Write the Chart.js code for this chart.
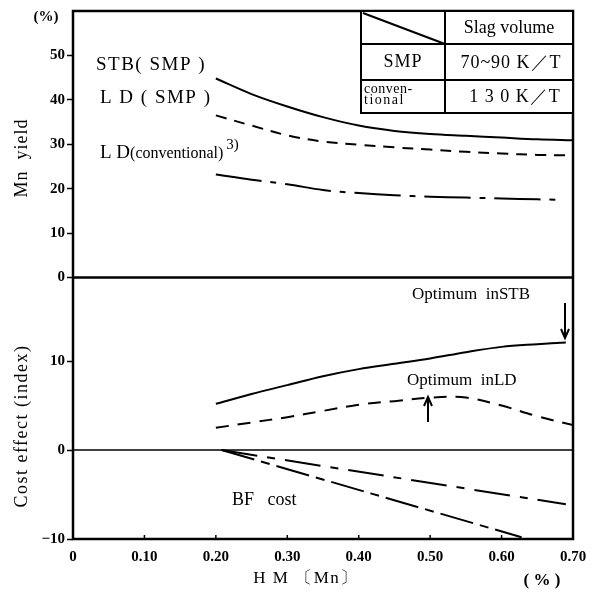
<!DOCTYPE html>
<html>
<head>
<meta charset="utf-8">
<script src="https://cdn.jsdelivr.net/npm/chart.js@4.4.1/dist/chart.umd.min.js"></script>
<style>
  html, body { margin: 0; padding: 0; background: #fff; }
</style>
</head>
<body>
<canvas id="chart" width="602" height="593"></canvas>
<script>
// values
const hmMn = [0.20, 0.25, 0.30, 0.35, 0.40, 0.45, 0.50, 0.55, 0.60, 0.65, 0.70];
const hmMnStb = [0.20, 0.25, 0.30, 0.35, 0.40, 0.45, 0.50, 0.55, 0.60, 0.65, 0.69];
const hmMnLdConv = [0.20, 0.25, 0.30, 0.35, 0.40, 0.45, 0.50, 0.55, 0.60, 0.65, 0.68];

const yieldStbSmp = [44.8, 41.3, 38.5, 36.1, 34.2, 33.0, 32.3, 31.9, 31.5, 31.1, 30.9];
const yieldLdSmp = [36.5, 34.2, 32.0, 30.6, 29.9, 29.3, 28.8, 28.3, 27.9, 27.6, 27.5];
const yieldLdConv = [23.2, 22.0, 21.0, 19.7, 19.0, 18.5, 18.2, 18.0, 17.8, 17.6, 17.5];

const costStb = [5.2, 6.3, 7.3, 8.3, 9.1, 9.7, 10.3, 11.0, 11.6, 11.9, 12.1];
const costLd = [2.5, 3.1, 3.7, 4.4, 5.1, 5.5, 5.9, 5.9, 5.0, 3.8, 2.8];

const bfX1 = [0.208, 0.69];
const bfCost1 = [0, -6.1];
const bfX2 = [0.208, 0.628];
const bfCost2 = [0, -9.8];

const yieldTicks = [0, 10, 20, 30, 40, 50];
const costTicks = [-10, 0, 10];
const xTicks = [0, 0.1, 0.2, 0.3, 0.4, 0.5, 0.6, 0.7];

const SERIF = "'Liberation Serif', 'DejaVu Serif', serif";
const INK = "#000";

function pts(xs, ys) {
  return ys.map((y, i) => ({ x: xs[i], y: y }));
}

function line(data, axis, dash) {
  return {
    data: data,
    yAxisID: axis,
    borderColor: INK,
    borderWidth: 2,
    borderDash: dash,
    pointRadius: 0,
    tension: 0.35,
    fill: false
  };
}

function txt(ctx, s, x, y, size, opts = {}) {
  ctx.font = (opts.bold ? "bold " : "") + size + "px " + SERIF;
  ctx.letterSpacing = opts.spacing || "0px";
  ctx.textAlign = opts.align || "left";
  ctx.textBaseline = "middle";
  ctx.fillText(s, x, y);
  const w = ctx.measureText(s).width;
  ctx.letterSpacing = "0px";
  return w;
}

function arrow(ctx, x, y1, y2) {
  const dir = y2 > y1 ? 1 : -1;
  ctx.beginPath();
  ctx.moveTo(x, y1);
  ctx.lineTo(x, y2);
  ctx.moveTo(x - 4, y2 - dir * 9);
  ctx.lineTo(x, y2);
  ctx.lineTo(x + 4, y2 - dir * 9);
  ctx.stroke();
}

// frame, table, labels and annotations
const decor = {
  id: "decor",
  afterDraw(chart) {
    const ctx = chart.ctx;
    const a = chart.chartArea;
    const xs = chart.scales.x;
    const y1 = chart.scales.y1;
    const y2 = chart.scales.y2;
    ctx.save();
    ctx.strokeStyle = INK;
    ctx.fillStyle = INK;

    // frame and panel separator
    ctx.lineWidth = 2.5;
    ctx.strokeRect(a.left, a.top, a.right - a.left, a.bottom - a.top);
    const sep = y1.getPixelForValue(0);
    ctx.beginPath();
    ctx.moveTo(a.left, sep);
    ctx.lineTo(a.right, sep);
    ctx.stroke();

    // zero line of lower panel
    ctx.lineWidth = 1.5;
    const z = y2.getPixelForValue(0);
    ctx.beginPath();
    ctx.moveTo(a.left, z);
    ctx.lineTo(a.right, z);
    ctx.stroke();

    // inward ticks on x axis
    ctx.lineWidth = 1.5;
    xTicks.slice(1, -1).forEach(v => {
      const px = xs.getPixelForValue(v);
      ctx.beginPath();
      ctx.moveTo(px, a.bottom);
      ctx.lineTo(px, a.bottom - 4);
      ctx.stroke();
    });

    // slag volume table
    const tl = 361, tc = 445, tr = a.right;
    const tt = a.top, r1 = 44, r2 = 80, tb = 113;
    ctx.fillStyle = "#fff";
    ctx.fillRect(tl, tt, tr - tl, tb - tt);
    ctx.fillStyle = INK;
    ctx.lineWidth = 2;
    ctx.strokeRect(tl, tt, tr - tl, tb - tt);
    ctx.beginPath();
    ctx.moveTo(tc, tt); ctx.lineTo(tc, tb);
    ctx.moveTo(tl, r1); ctx.lineTo(tr, r1);
    ctx.moveTo(tl, r2); ctx.lineTo(tr, r2);
    ctx.moveTo(tl + 2, tt + 2); ctx.lineTo(tc, r1);
    ctx.stroke();
    txt(ctx, "Slag volume", (tc + tr) / 2, 28, 18, { align: "center" });
    txt(ctx, "SMP", (tl + tc) / 2, 62, 18, { align: "center", spacing: "1px" });
    txt(ctx, "70~90 K／T", (tc + tr) / 2 + 2, 63, 18, { align: "center", spacing: "1px" });
    txt(ctx, "conven-", 364, 89, 14, { spacing: "0.5px" });
    txt(ctx, "tional", 364, 100, 14, { spacing: "1.5px" });
    txt(ctx, "1 3 0 K／T", (tc + tr) / 2 + 6, 97, 18, { align: "center", spacing: "1px" });

    // curve labels, upper panel
    txt(ctx, "STB( SMP )", 96, 65, 19, { spacing: "1.5px" });
    txt(ctx, "L D ( SMP )", 100, 98, 19, { spacing: "1.5px" });
    let w = txt(ctx, "L D", 100, 153, 19);
    w += txt(ctx, "(conventional)", 100 + w, 154, 16);
    txt(ctx, "3)", 100 + w + 3, 145, 15);

    // annotations, lower panel
    txt(ctx, "Optimum  inSTB", 412, 295, 17);
    arrow(ctx, 565, 303, 338);
    txt(ctx, "Optimum  inLD", 407, 381, 17);
    arrow(ctx, 428, 422, 397);
    txt(ctx, "BF   cost", 232, 500, 18);

    // axis titles
    txt(ctx, "(%)", 46, 17, 15, { bold: true, align: "center" });
    txt(ctx, "H M 〔Mn〕", 306, 579, 17, { align: "center", spacing: "1.5px" });
    txt(ctx, "( % )", 542, 581, 17, { bold: true, align: "center" });

    ctx.save();
    ctx.translate(22, 158);
    ctx.rotate(-Math.PI / 2);
    txt(ctx, "Mn  yield", 0, 0, 18, { align: "center", spacing: "1px" });
    ctx.restore();
    ctx.save();
    ctx.translate(22, 426);
    ctx.rotate(-Math.PI / 2);
    txt(ctx, "Cost effect (index)", 0, 0, 18, { align: "center", spacing: "1.5px" });
    ctx.restore();

    ctx.restore();
  }
};

const tickFont = { family: SERIF, size: 15, weight: "bold" };

new Chart(document.getElementById("chart").getContext("2d"), {
  type: "line",
  data: {
    datasets: [
      line(pts(hmMn, yieldStbSmp), "y1", []),
      line(pts(hmMnStb, yieldLdSmp), "y1", [11, 8]),
      line(pts(hmMnLdConv, yieldLdConv), "y1", [46, 9, 6, 9]),
      line(pts(hmMnStb, costStb), "y2", []),
      line(pts(hmMn, costLd), "y2", [13, 9]),
      line(pts(bfX1, bfCost1), "y2", [36, 10, 8, 10]),
      line(pts(bfX2, bfCost2), "y2", [34, 7, 9, 7])
    ]
  },
  options: {
    responsive: false,
    animation: false,
    devicePixelRatio: 1,
    layout: { padding: { top: 10, right: 29, left: 0, bottom: 0 } },
    plugins: {
      legend: { display: false },
      tooltip: { enabled: false }
    },
    scales: {
      x: {
        type: "linear",
        min: 0,
        max: 0.7,
        afterFit: s => { s.height = 54; },
        afterBuildTicks: s => { s.ticks = xTicks.map(v => ({ value: v })); },
        ticks: {
          color: INK,
          font: tickFont,
          padding: 9,
          maxRotation: 0,
          autoSkip: false,
          callback: v => (v === 0 ? "0" : v.toFixed(2))
        },
        grid: { display: false, drawTicks: false },
        border: { display: false }
      },
      // lower panel listed first: left boxes are stacked in reverse order
      y2: {
        type: "linear",
        position: "left",
        stack: "panels",
        stackWeight: 262,
        min: -10,
        max: 19.4,
        afterFit: s => { s.width = 73; },
        afterBuildTicks: s => { s.ticks = costTicks.map(v => ({ value: v })); },
        ticks: {
          color: INK,
          font: tickFont,
          padding: 2,
          callback: v => (v < 0 ? "\u2212" + Math.abs(v) : String(v))
        },
        grid: { drawOnChartArea: false, tickLength: 6, tickColor: INK, tickWidth: 1.5 },
        border: { display: false }
      },
      y1: {
        type: "linear",
        position: "left",
        stack: "panels",
        stackWeight: 267,
        min: 0,
        max: 60,
        afterFit: s => { s.width = 73; },
        afterBuildTicks: s => { s.ticks = yieldTicks.map(v => ({ value: v })); },
        ticks: { color: INK, font: tickFont, padding: 2 },
        grid: { drawOnChartArea: false, tickLength: 6, tickColor: INK, tickWidth: 1.5 },
        border: { display: false }
      }
    }
  },
  plugins: [decor]
});
</script>
</body>
</html>
